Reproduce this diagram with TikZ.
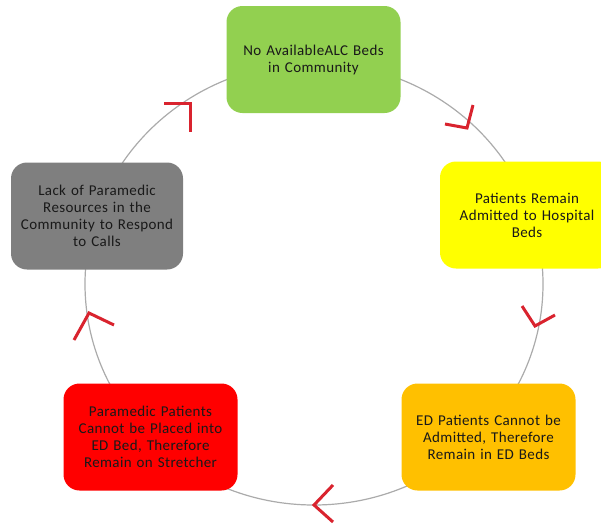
\documentclass[tikz,border=0pt]{standalone}
\usepackage{fontspec}
\setmainfont[LetterSpace=2.5]{Carlito}
\definecolor{cgreen}{HTML}{92D050}
\definecolor{cyellow}{HTML}{FFFF00}
\definecolor{corange}{HTML}{FFC000}
\definecolor{cred}{HTML}{FF0000}
\definecolor{cgray}{HTML}{7F7F7F}
\definecolor{ring}{HTML}{ABABAB}
\definecolor{chev}{HTML}{D9232E}
\begin{document}
\begin{tikzpicture}[x=1pt,y=-1pt,
  box/.style={rounded corners=16pt, minimum width=174pt, minimum height=107pt,
    align=center, text width=172pt, inner sep=0pt,
    font=\fontsize{15}{17}\selectfont, text=black!90},
  chevron/.style={draw=chev, line width=3pt, miter limit=4}]
\useasboundingbox (0,0) rectangle (601,523);
\clip (0,0) rectangle (601,523);
\draw[ring, line width=1.2pt] (314,284) ellipse [x radius=229, y radius=221];
\node[box, fill=cgreen] (green) at (313.5,59.5) {No AvailableALC Beds\\in Community};
\node[box, fill=cyellow] (yellow) at (527,215) {Patients Remain\\Admitted to Hospital\\Beds};
\node[box, fill=corange] (orange) at (488.5,437) {ED Patients Cannot be\\Admitted, Therefore\\Remain in ED Beds};
\node[box, fill=cred] (red) at (150.5,437) {Paramedic Patients\\Cannot be Placed into\\ED Bed, Therefore\\Remain on Stretcher};
\node[box, fill=cgray, minimum width=170pt] (gray) at (97,216) {Lack of Paramedic\\Resources in the\\Community to Respond\\to Calls};
\draw[chevron] (164,103) -- (190,103) -- (190,132);
\draw[chevron] (445,124) -- (467,128) -- (473,105);
\draw[chevron] (522,306) -- (535,326) -- (555,315);
\draw[chevron] (333,485) -- (314,505) -- (333,522);
\draw[chevron] (74,340) -- (89,313) -- (114,325);
\end{tikzpicture}
\end{document}
